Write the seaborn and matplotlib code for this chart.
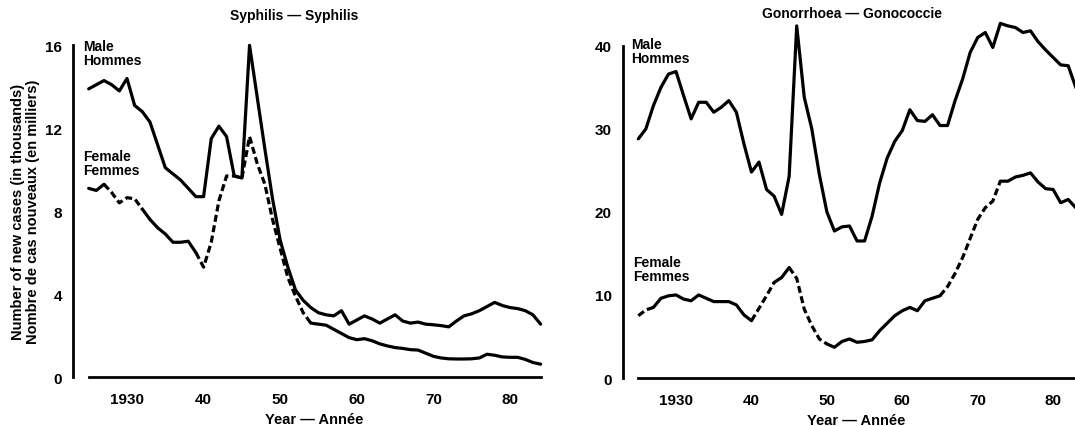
# Syphilis and gonorrhoea, new cases per year, male vs female
import numpy as np
import pandas as pd
import matplotlib
matplotlib.use('Agg')
import matplotlib.pyplot as plt
import seaborn as sns

# Data (thousands of new cases)
years = list(range(1925, 1985))

syph_male = [13.9, 14.1, 14.3, 14.1, 13.8,
             14.4, 13.1, 12.8, 12.3, 11.2,
             10.1, 9.8, 9.5, 9.1, 8.7,
             8.7, 11.5, 12.1, 11.6, 9.7,
             9.6, 16.0, 13.5, 11.0, 8.6,
             6.6, 5.3, 4.2, 3.7, 3.35,
             3.1, 3.0, 2.95, 3.2, 2.55,
             2.75, 2.95, 2.8, 2.6, 2.8,
             3.0, 2.7, 2.6, 2.65, 2.55,
             2.52, 2.48, 2.42, 2.7, 2.95,
             3.05, 3.2, 3.4, 3.6, 3.45,
             3.35, 3.3, 3.2, 3.0, 2.55]

syph_female = [9.1, 9.0, 9.3, 8.9, 8.4,
               8.65, 8.6, 8.1, 7.6, 7.2,
               6.9, 6.5, 6.5, 6.55, 6.0,
               5.3, 6.5, 8.5, 9.7, 9.7,
               9.6, 11.6, 10.3, 9.3, 7.6,
               6.2, 4.8, 3.9, 3.1, 2.6,
               2.55, 2.5, 2.3, 2.1, 1.9,
               1.8, 1.85, 1.75, 1.6, 1.5,
               1.42, 1.38, 1.32, 1.3, 1.15,
               1.0, 0.92, 0.88, 0.87, 0.87,
               0.88, 0.92, 1.1, 1.05, 0.97,
               0.95, 0.95, 0.85, 0.7, 0.62]

gono_male = [28.8, 30.0, 32.8, 35.0, 36.6,
             36.9, 34.0, 31.2, 33.2, 33.2,
             32.0, 32.6, 33.4, 32.0, 28.2,
             24.8, 26.0, 22.7, 21.9, 19.7,
             24.3, 42.4, 33.8, 30.0, 24.5,
             20.0, 17.7, 18.2, 18.3, 16.5,
             16.5, 19.5, 23.5, 26.5, 28.5,
             29.8, 32.3, 31.0, 30.9, 31.7,
             30.4, 30.4, 33.4, 36.0, 39.2,
             41.0, 41.6, 39.8, 42.7, 42.4,
             42.2, 41.6, 41.8, 40.5, 39.5,
             38.6, 37.7, 37.6, 35.0, 33.0]

gono_female = [7.5, 8.2, 8.5, 9.6, 9.9,
               10.0, 9.5, 9.3, 10.0, 9.6,
               9.2, 9.2, 9.2, 8.8, 7.6,
               6.9, 8.4, 9.9, 11.5, 12.1,
               13.3, 12.0, 8.3, 6.3, 4.7,
               4.1, 3.7, 4.4, 4.7, 4.3,
               4.4, 4.6, 5.7, 6.6, 7.5,
               8.1, 8.5, 8.1, 9.3, 9.6,
               9.9, 11.0, 12.6, 14.5, 16.8,
               19.1, 20.5, 21.3, 23.7, 23.7,
               24.2, 24.4, 24.7, 23.6, 22.8,
               22.7, 21.1, 21.5, 20.5, 20.0]

# Stretches of the female curves drawn dashed in the original
syph_female_dashed = [(1927, 1932), (1939, 1954)]
gono_female_dashed = [(1925, 1927), (1940, 1943), (1945, 1950), (1965, 1973)]

df = pd.DataFrame({'Year': years,
                   'syph_male': syph_male, 'syph_female': syph_female,
                   'gono_male': gono_male, 'gono_female': gono_female})

# Theme and fonts
sns.set_theme(style='white')
plt.rcParams['font.family'] = ['Liberation Sans', 'DejaVu Sans']
plt.rcParams['font.weight'] = 'bold'
plt.rcParams['text.color'] = 'black'
plt.rcParams['axes.labelcolor'] = 'black'

LW = 2.3
DASH = (0, (2.2, 1.1))


def draw_segments(ax, col, dashed):
    # split one series into solid / dashed runs, overlapping at the joins
    cuts = sorted({years[0], years[-1]} | {y for seg in dashed for y in seg})
    for a, b in zip(cuts[:-1], cuts[1:]):
        part = df[(df['Year'] >= a) & (df['Year'] <= b)]
        is_dash = any(a >= s and b <= e for s, e in dashed)
        sns.lineplot(data=part, x='Year', y=col, ax=ax, color='black',
                     lw=LW, estimator=None, clip_on=False,
                     linestyle=DASH if is_dash else '-')


def style_axes(ax, ymax, ystep, xmax):
    ax.set_xlim(1925, xmax)
    ax.set_ylim(0, ymax)
    sns.despine(ax=ax)
    ax.spines['left'].set_position(('outward', 11))
    for side in ['left', 'bottom']:
        ax.spines[side].set_linewidth(2.0)
        ax.spines[side].set_color('black')
    ax.set_xticks([1930, 1940, 1950, 1960, 1970, 1980])
    ax.set_xticklabels(['1930', '40', '50', '60', '70', '80'])
    ax.set_yticks(np.arange(0, ymax + 1, ystep))
    ax.tick_params(axis='both', direction='out', length=5, width=1.6,
                   colors='black', labelsize=11, pad=3)
    ax.tick_params(axis='x', pad=6)
    ax.set_xlabel('Year — Année', fontsize=10.5, fontweight='bold',
                  color='black', labelpad=4)
    ax.set_facecolor('white')


fig = plt.figure(figsize=(10.75, 4.27), dpi=100)
ax1 = fig.add_axes([0.0825, 0.1147, 0.4204, 0.7768])
ax2 = fig.add_axes([0.5938, 0.1124, 0.4062, 0.7780])

# Syphilis
draw_segments(ax1, 'syph_male', [])
draw_segments(ax1, 'syph_female', syph_female_dashed)
style_axes(ax1, 16, 4, 1984)
ax1.set_ylabel('Number of new cases (in thousands)\nNombre de cas nouveaux (en milliers)',
               fontsize=10.5, fontweight='bold', color='black',
               linespacing=1.05, va='center')
ax1.yaxis.set_label_coords(-0.14, 0.5)
ax1.text(0.454, 1.09, 'Syphilis — Syphilis', transform=ax1.transAxes,
         ha='center', va='center', fontsize=10, fontweight='bold')
ax1.text(1924.3, 16.3, 'Male\nHommes', fontsize=10, fontweight='bold',
         va='top', ha='left', linespacing=1.0)
ax1.text(1924.3, 11.0, 'Female\nFemmes', fontsize=10, fontweight='bold',
         va='top', ha='left', linespacing=1.0)

# Gonorrhoea
draw_segments(ax2, 'gono_male', [])
draw_segments(ax2, 'gono_female', gono_female_dashed)
style_axes(ax2, 40, 10, 1982.9)
ax2.set_ylabel('')
ax2.text(0.489, 1.10, 'Gonorrhoea — Gonococcie', transform=ax2.transAxes,
         ha='center', va='center', fontsize=10, fontweight='bold')
ax2.text(1924.0, 41.1, 'Male\nHommes', fontsize=10, fontweight='bold',
         va='top', ha='left', linespacing=1.0)
ax2.text(1924.3, 14.8, 'Female\nFemmes', fontsize=10, fontweight='bold',
         va='top', ha='left', linespacing=1.0)

fig.savefig('out.png', dpi=100, facecolor='white')
